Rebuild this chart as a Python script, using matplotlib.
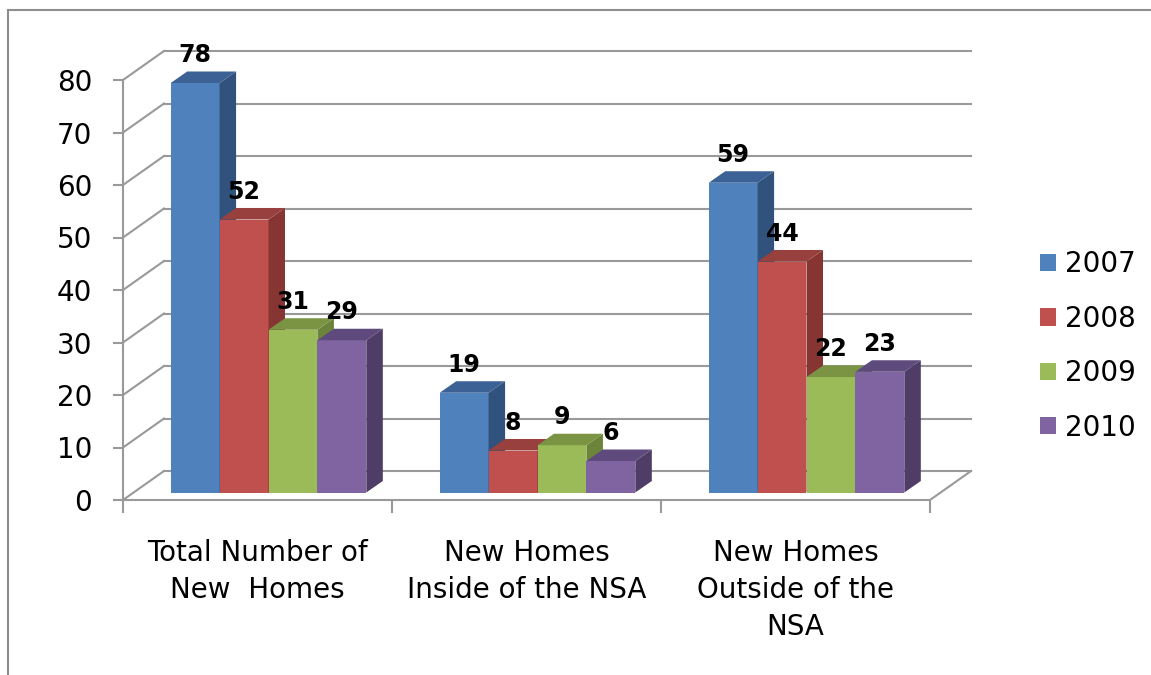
import numpy as np
import matplotlib
matplotlib.use("Agg")
import matplotlib.pyplot as plt
from matplotlib.patches import Polygon, Patch
from matplotlib.lines import Line2D

categories = ["Total Number of\nNew  Homes", "New Homes\nInside of the NSA", "New Homes\nOutside of the\nNSA"]
years = ["2007", "2008", "2009", "2010"]
values_2007 = [78, 19, 59]
values_2008 = [52, 8, 44]
values_2009 = [31, 9, 22]
values_2010 = [29, 6, 23]
series = [values_2007, values_2008, values_2009, values_2010]
front_colors = ["#4F81BD", "#C0504D", "#9BBB59", "#8064A2"]
side_colors = ["#30527C", "#873533", "#6B8439", "#4F3D67"]
top_colors = ["#3B6195", "#98403D", "#7A9443", "#5F4A7D"]
yticks = list(range(0, 81, 10))

DPI = 100
W, H = 1151, 675
plt.rcParams["font.family"] = ["DejaVu Sans"]

fig = plt.figure(figsize=(W / DPI, H / DPI), dpi=DPI)
# front plane of the 3d box, in pixels: x 123..930, y 500 (0) .. 80 (80)
ax_l, ax_r, ax_b, ax_t = 123, 930, 500, 80
ax = fig.add_axes([ax_l / W, (H - ax_b) / H, (ax_r - ax_l) / W, (ax_b - ax_t) / H])
ax.set_xlim(0, 3)
ax.set_ylim(0, 80)

# pixel -> data unit helpers
ux = 3 / (ax_r - ax_l)
uy = 80 / (ax_b - ax_t)
back_dx, back_dy = 41 * ux, 29 * uy      # back wall offset
bar_dx, bar_dy = 11 * ux, 7.5 * uy       # bars sit a bit into the box
dep_dx, dep_dy = 16.5 * ux, 11.5 * uy    # bar depth

grid_c = "#999999"
# back wall gridlines + diagonals on the left wall edge
for v in yticks:
    ax.plot([0, back_dx], [v, v + back_dy], color=grid_c, lw=1.5, clip_on=False, zorder=1)
    ax.plot([back_dx, 3 + back_dx], [v + back_dy, v + back_dy], color=grid_c, lw=1.5, clip_on=False, zorder=1)
# right floor edge
ax.plot([3, 3 + back_dx], [0, back_dy], color=grid_c, lw=1.5, clip_on=False, zorder=1)

n = len(series)
bw = 1 / (n + 1.5)
for gi in range(len(categories)):
    start = gi + 0.75 * bw
    for si in range(n):
        v = series[si][gi]
        xl = start + si * bw + bar_dx
        xr = xl + bw
        y0 = bar_dy
        y1 = v + bar_dy
        z = 3 + gi * 10 + si * 2
        ax.add_patch(Polygon([(xl, y0), (xr, y0), (xr, y1), (xl, y1)], closed=True,
                             facecolor=front_colors[si], edgecolor="none", clip_on=False, zorder=z))
        ax.add_patch(Polygon([(xr, y0), (xr + dep_dx, y0 + dep_dy), (xr + dep_dx, y1 + dep_dy), (xr, y1)],
                             closed=True, facecolor=side_colors[si], edgecolor="none", clip_on=False, zorder=z))
        ax.add_patch(Polygon([(xl, y1), (xr, y1), (xr + dep_dx, y1 + dep_dy), (xl + dep_dx, y1 + dep_dy)],
                             closed=True, facecolor=top_colors[si], edgecolor="none", clip_on=False, zorder=z))
        ax.annotate(str(v), xy=((xl + xr) / 2, y1), xytext=(0, 20), textcoords="offset points",
                    ha="center", va="center", fontsize=17, fontweight="bold", color="black",
                    zorder=50, annotation_clip=False)

# axes styling
for s in ["top", "right"]:
    ax.spines[s].set_visible(False)
for s in ["left", "bottom"]:
    ax.spines[s].set_color(grid_c)
    ax.spines[s].set_linewidth(1.5)
    ax.spines[s].set_zorder(2)
ax.set_facecolor("none")

ax.set_yticks(yticks)
ax.tick_params(axis="y", direction="out", length=7.2, width=1.5, color=grid_c, pad=15, labelsize=20)

ax.set_xticks([0.5, 1.5, 2.5])
ax.set_xticklabels(categories)
ax.set_xticks([0, 1, 2, 3], minor=True)
ax.tick_params(axis="x", which="major", length=0, pad=28, labelsize=20)
ax.tick_params(axis="x", which="minor", direction="out", length=9, width=1.5, color=grid_c)
for lab in ax.get_xticklabels():
    lab.set_linespacing(1.42)

# legend
handles = [Patch(facecolor=c, edgecolor="none") for c in front_colors]
fig.legend(handles, years, loc="center left", bbox_to_anchor=(1040 / W, (H - 346) / H),
           frameon=False, fontsize=20, handlelength=0.58, handleheight=0.58,
           handletextpad=0.32, labelspacing=0.95, borderpad=0, borderaxespad=0)

# outer chart border (cropped on right/bottom)
fig.add_artist(Line2D([8 / W, 8 / W], [0, (H - 10) / H], color="#8E8E8E", lw=1.5))
fig.add_artist(Line2D([8 / W, 1], [(H - 10) / H, (H - 10) / H], color="#8E8E8E", lw=1.5))

fig.savefig("out.png", dpi=DPI)
